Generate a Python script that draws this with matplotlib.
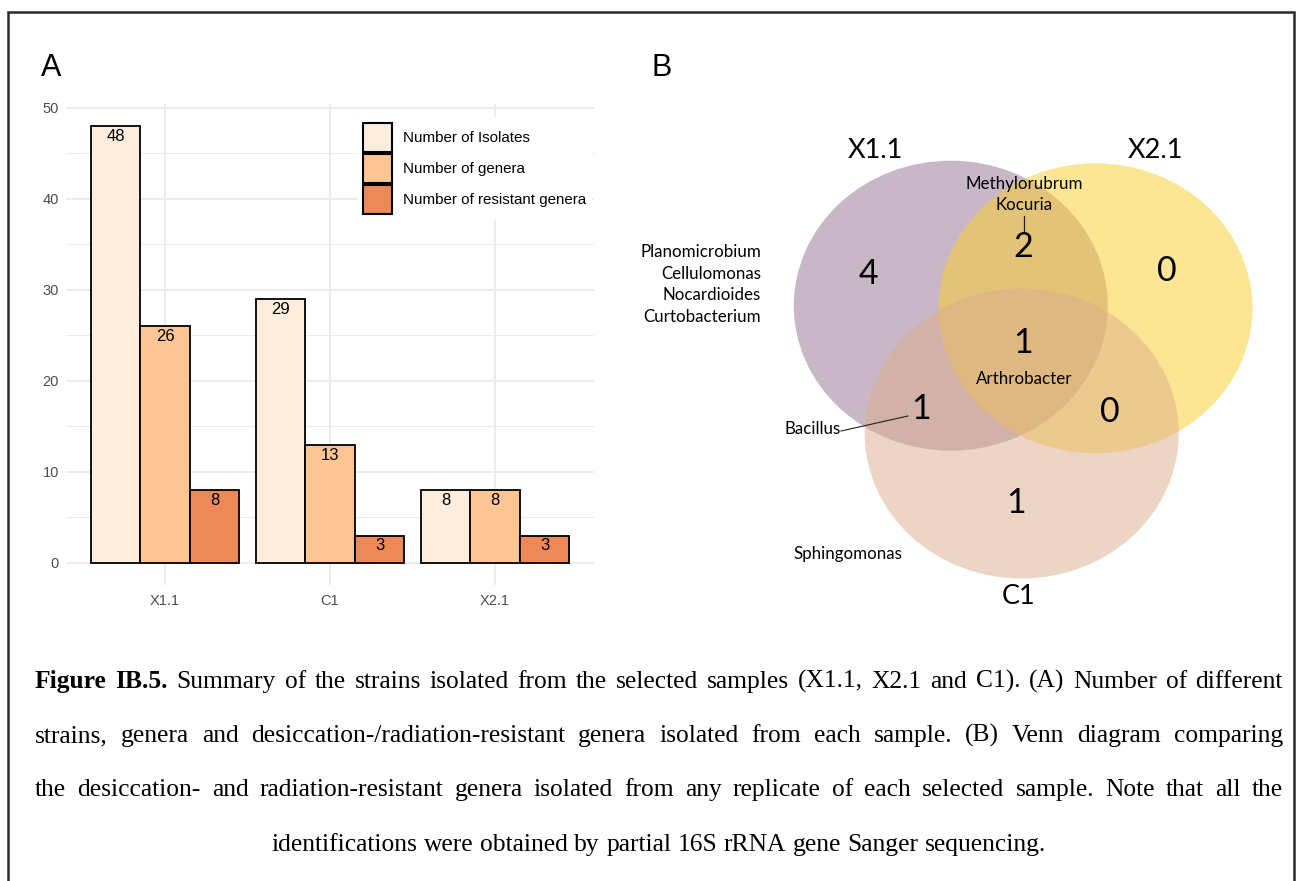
import matplotlib
matplotlib.use("Agg")
import numpy as np
import matplotlib.pyplot as plt
from matplotlib.patches import Ellipse, Patch

# ---- panel A data ----
samples = ["X1.1", "C1", "X2.1"]
n_isolates = [48, 29, 8]
n_genera = [26, 13, 8]
n_resistant = [8, 3, 3]
series_names = ["Number of Isolates", "Number of genera", "Number of resistant genera"]
series_colors = ["#FCEDDC", "#FCC694", "#EB8957"]

# ---- panel B data ----
venn_sets = ["X1.1", "X2.1", "C1"]
venn_counts = {"X1.1": 4, "X2.1": 0, "C1": 1,
               "X1.1&X2.1": 2, "X1.1&C1": 1, "X2.1&C1": 0, "all": 1}
venn_genera = {"X1.1": ["Planomicrobium", "Cellulomonas", "Nocardioides", "Curtobacterium"],
               "X1.1&X2.1": ["Methylorubrum", "Kocuria"],
               "X1.1&C1": ["Bacillus"],
               "all": ["Arthrobacter"],
               "C1": ["Sphingomonas"]}
venn_colors = ["#917191", "#FDCF29", "#DDAD8D"]

caption_lines = [
    "Figure IB.5. Summary of the strains isolated from the selected samples (X1.1, X2.1 and C1). (A) Number of different",
    "strains, genera and desiccation-/radiation-resistant genera isolated from each sample. (B) Venn diagram comparing",
    "the desiccation- and radiation-resistant genera isolated from any replicate of each selected sample. Note that all the",
    "identifications were obtained by partial 16S rRNA gene Sanger sequencing.",
]

W, H = 1297, 881
fig = plt.figure(figsize=(W / 100, H / 100), dpi=100)
fig.patch.set_facecolor("white")
sans = ["Liberation Sans", "DejaVu Sans"]
venn_font = ["Lato", "DejaVu Sans"]
serif = ["Liberation Serif", "DejaVu Serif"]

# ---------------- panel A: grouped bars ----------------
ax = fig.add_axes([66 / W, 1 - 584.7 / H, 528 / W, 480.4 / H])
x = np.arange(1, len(samples) + 1)
bw = 0.3
for i, (vals, name, col) in enumerate(zip([n_isolates, n_genera, n_resistant], series_names, series_colors)):
    pos = x + (i - 1) * bw
    ax.bar(pos, vals, width=bw, color=col, edgecolor="black", linewidth=1.3, zorder=3, label=name)
    for px, v in zip(pos, vals):
        ax.annotate(str(v), (px, v), xytext=(0, -7.5), textcoords="offset points",
                    ha="center", va="center", fontsize=12, family=sans, zorder=4)

ax.set_xlim(0.4, 3.6)
ax.set_ylim(-2.4, 50.4)
ax.set_xticks(x)
ax.set_xticklabels(samples)
ax.set_yticks(np.arange(0, 51, 10))
ax.set_yticks(np.arange(5, 50, 10), minor=True)
ax.grid(which="major", color="#EBEBEB", linewidth=1.3, zorder=0)
ax.grid(which="minor", axis="y", color="#EBEBEB", linewidth=0.65, zorder=0)
ax.set_axisbelow(True)
for s in ax.spines.values():
    s.set_visible(False)
ax.tick_params(which="both", length=0, labelsize=10.5, labelcolor="#4D4D4D")
ax.tick_params(axis="y", pad=5)
ax.tick_params(axis="x", pad=7)
for lab in ax.get_xticklabels() + ax.get_yticklabels():
    lab.set_family(sans)

handles = [Patch(facecolor=c, edgecolor="black", linewidth=1.5, label=n)
           for c, n in zip(series_colors, series_names)]
leg = ax.legend(handles=handles, loc="upper left", bbox_to_anchor=(0.551, 0.9736),
                frameon=True, fancybox=False, framealpha=1, facecolor="white", edgecolor="none",
                borderpad=0.4, borderaxespad=0, handlelength=1.9, handleheight=2.6,
                handletextpad=0.75, labelspacing=0.1, prop={"family": sans, "size": 10.9})
leg.set_zorder(10)

# ---------------- overlay in pixel units: venn, labels, caption, border ----------------
ov = fig.add_axes([0, 0, 1, 1])
ov.set_xlim(0, W)
ov.set_ylim(H, 0)
ov.axis("off")
ov.patch.set_alpha(0)

ov.text(51, 68, "A", fontsize=22, family=sans, ha="center", va="center")
ov.text(662, 68, "B", fontsize=22, family=sans, ha="center", va="center")

# venn ellipses
ell_centers = [(950.8, 305.7), (1095.5, 308.3), (1021.7, 433.5)]
ell_w, ell_h = 314, 290
for (cx, cy), col in zip(ell_centers, venn_colors):
    ov.add_patch(Ellipse((cx, cy), ell_w, ell_h, facecolor=col, alpha=0.5, edgecolor="none"))

set_label_pos = {"X1.1": (875, 150), "X2.1": (1155, 150), "C1": (1019, 596)}
for name in venn_sets:
    lx, ly = set_label_pos[name]
    ov.text(lx, ly, name, fontsize=19.5, family=venn_font, ha="center", va="center")

count_pos = {"X1.1": (868, 274), "X2.1": (1167, 271), "C1": (1016, 503),
             "X1.1&X2.1": (1023, 247), "X1.1&C1": (921, 409), "X2.1&C1": (1110, 412),
             "all": (1023, 343)}
for key, n in venn_counts.items():
    cx, cy = count_pos[key]
    ov.text(cx, cy, str(n), fontsize=24.5, family=venn_font, ha="center", va="center")

gfs = 12.2
# genera unique to X1.1, listed to the left
for k, g in enumerate(venn_genera["X1.1"]):
    ov.text(761, 252 + 21.6 * k, g, fontsize=gfs, family=venn_font, ha="right", va="center")
# X1.1 & X2.1
for k, g in enumerate(venn_genera["X1.1&X2.1"]):
    ov.text(1024.5, 183.5 + 22 * k, g, fontsize=gfs, family=venn_font, ha="center", va="center")
ov.plot([1023.7, 1023.7], [215.5, 231], color="#222222", lw=0.9)
# shared by all
ov.text(1024.5, 379.5, venn_genera["all"][0], fontsize=gfs, family=venn_font, ha="center", va="center")
# X1.1 & C1
ov.text(784, 429.5, venn_genera["X1.1&C1"][0], fontsize=gfs, family=venn_font, ha="left", va="center")
ov.plot([841, 908], [431, 416], color="#222222", lw=0.8)
# C1 only
ov.text(793, 553.5, venn_genera["C1"][0], fontsize=gfs, family=venn_font, ha="left", va="center")

# caption with justified lines
renderer = fig.canvas.get_renderer()
cfs = 18.4


def word_width(w, weight):
    t = ov.text(0, 0, w, fontsize=cfs, family=serif, weight=weight)
    wd = t.get_window_extent(renderer).width
    t.remove()
    return wd


def place_line(line, y, x0, x1, justify=True, bold_words=0):
    words = line.split(" ")
    weights = ["bold" if i < bold_words else "normal" for i in range(len(words))]
    widths = [word_width(w, wt) for w, wt in zip(words, weights)]
    if justify:
        gap = (x1 - x0 - sum(widths)) / (len(words) - 1)
        xs = x0
    else:
        gap = word_width("a a", "normal") - word_width("aa", "normal")
        total = sum(widths) + gap * (len(words) - 1)
        xs = (x0 + x1) / 2 - total / 2
    for w, wt, wd in zip(words, weights, widths):
        ov.text(xs, y, w, fontsize=cfs, family=serif, weight=wt, ha="left", va="baseline")
        xs += wd + gap


baselines = [688, 742, 796, 851]
for k, (line, yb) in enumerate(zip(caption_lines, baselines)):
    last = k == len(caption_lines) - 1
    place_line(line, yb, 35, 1283, justify=not last, bold_words=2 if k == 0 else 0)

# frame around the figure (open at the bottom)
ov.plot([7.5, 7.5, 1294, 1294], [H, 11.5, 11.5, H], color="#2b2b2b", lw=1.8, solid_joinstyle="miter")

fig.savefig("out.png", dpi=100)
